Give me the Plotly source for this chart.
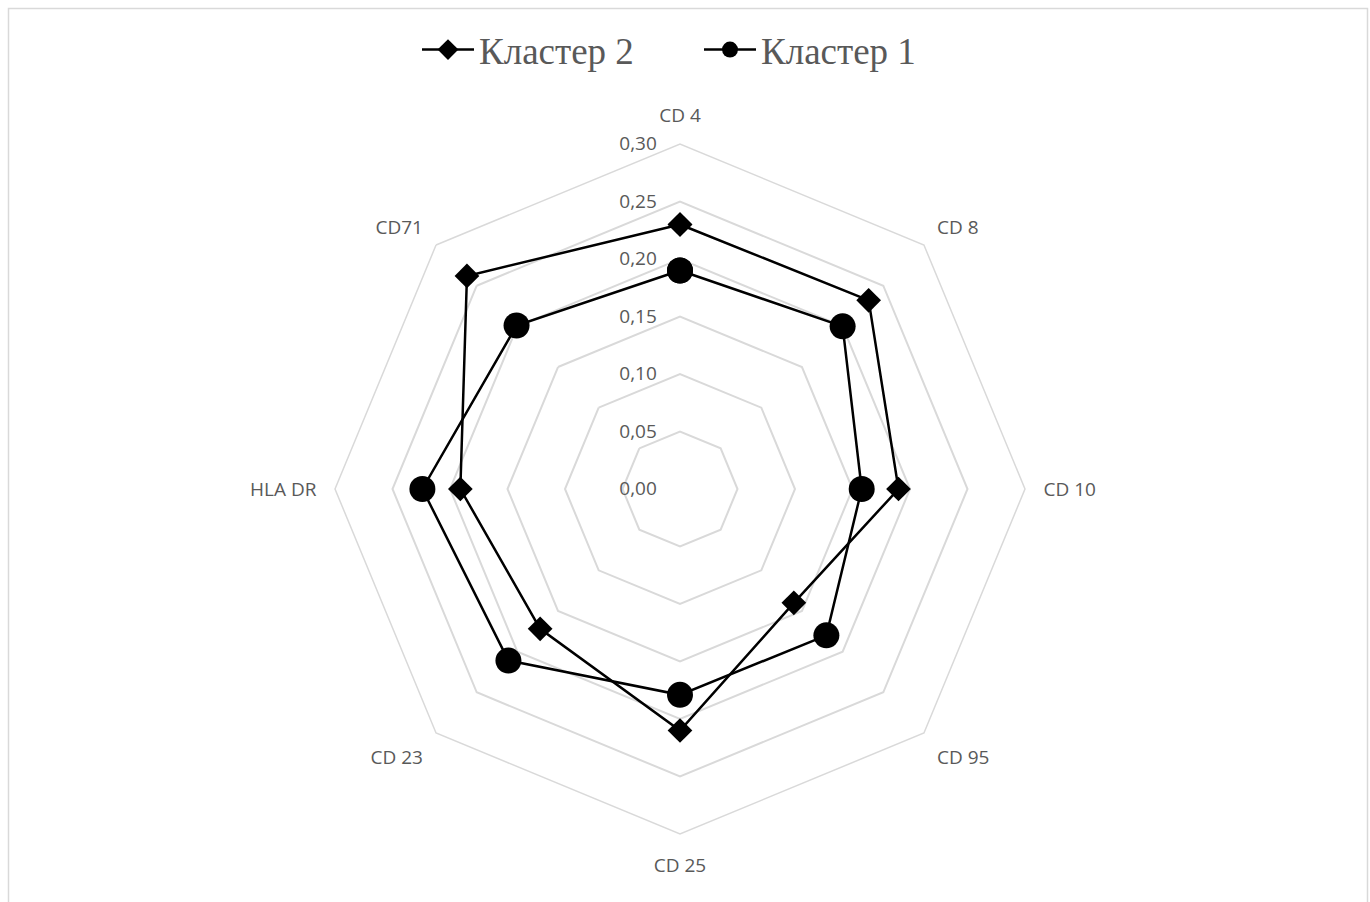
import plotly.graph_objects as go

# Axis categories (clockwise from the top)
markers = ["CD 4", "CD 8", "CD 10", "CD 95", "CD 25", "CD 23", "HLA DR", "CD71"]

# Mean values per cluster
cluster2 = [0.23, 0.232, 0.19, 0.14, 0.21, 0.172, 0.191, 0.262]
cluster1 = [0.19, 0.20, 0.158, 0.18, 0.179, 0.211, 0.224, 0.201]

# Radial tick labels (comma decimal separator)
tick_values = [0.0, 0.05, 0.10, 0.15, 0.20, 0.25, 0.30]
tick_labels = ["0,00", "0,05", "0,10", "0,15", "0,20", "0,25", "0,30"]

W, H = 1370, 902
cx, cy, R = 680, 489, 345
grid = "#d9d9d9"
label_font = dict(family="Open Sans", size=19, color="#595959")


def closed(seq):
    return list(seq) + [seq[0]]


fig = go.Figure()
fig.add_trace(go.Scatterpolar(
    r=closed(cluster2), theta=closed(markers), name="Кластер 2",
    mode="lines+markers",
    line=dict(color="black", width=2.5),
    marker=dict(symbol="diamond", size=19, color="black"),
))
fig.add_trace(go.Scatterpolar(
    r=closed(cluster1), theta=closed(markers), name="Кластер 1",
    mode="lines+markers",
    line=dict(color="black", width=2.5),
    marker=dict(symbol="circle", size=26, color="black"),
))

fig.update_layout(
    width=W, height=H,
    margin=dict(l=0, r=0, t=0, b=0),
    paper_bgcolor="white",
    plot_bgcolor="white",
    showlegend=True,
    legend=dict(
        orientation="h", x=(423 - 6) / W, xanchor="left", y=1 - 50 / H, yanchor="middle",
        font=dict(family="Liberation Serif", size=37, color="#595959"),
        itemwidth=52, entrywidth=215, entrywidthmode="pixels",
        bgcolor="rgba(0,0,0,0)",
    ),
    polar=dict(
        domain=dict(x=[(cx - R) / W, (cx + R) / W],
                    y=[(H - cy - R) / H, (H - cy + R) / H]),
        gridshape="linear",
        bgcolor="white",
        radialaxis=dict(
            range=[0, 0.3], tickvals=tick_values, ticktext=tick_labels,
            angle=90, tickangle=90, side="counterclockwise",
            showline=False, ticks="outside", ticklen=16,
            tickcolor="rgba(0,0,0,0)", gridcolor=grid, gridwidth=1.5,
            tickfont=label_font,
        ),
        angularaxis=dict(
            rotation=90, direction="clockwise",
            showgrid=False, linecolor=grid, linewidth=1.5,
            ticks="outside", ticklen=14, tickcolor="rgba(0,0,0,0)",
            tickfont=label_font,
        ),
    ),
    shapes=[dict(
        type="rect", xref="paper", yref="paper",
        x0=8.5 / W, x1=1367.5 / W, y0=-0.05, y1=1 - 8.5 / H,
        line=dict(color=grid, width=1.5), fillcolor="rgba(0,0,0,0)", layer="below",
    )],
)

fig.write_html("out.html")
